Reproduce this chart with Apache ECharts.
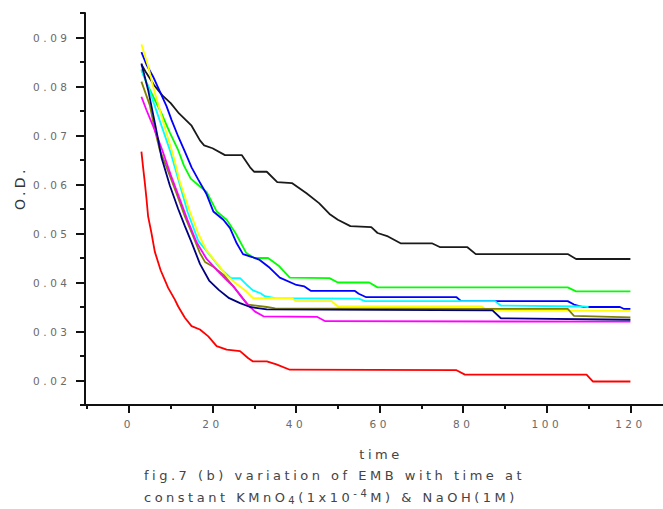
<!DOCTYPE html>
<html><head><meta charset="utf-8">
<script src="https://cdn.jsdelivr.net/npm/echarts@6.0.0/dist/echarts.min.js"></script>
<style>
html,body{margin:0;padding:0;background:#fff;}
#main{width:663px;height:509px;}
#main text{letter-spacing:3.5px;}
</style></head><body><div id="main"></div>
<script>
// ---- tick labels ----
const xTicks = [0, 20, 40, 60, 80, 100, 120];
const xMinor = [-10, 10, 30, 50, 70, 90, 110];
const yTicks = [0.02, 0.03, 0.04, 0.05, 0.06, 0.07, 0.08, 0.09];
const yMinor = [0.015, 0.025, 0.035, 0.045, 0.055, 0.065, 0.075, 0.085, 0.095];

// ---- series values: [time, O.D.] ----
const blackOD = [[3,0.0845],[4,0.083],[5,0.0817],[6,0.0803],[8,0.0782],[10,0.0766],[12,0.0745],[15,0.072],[17,0.069],[18,0.068],[20,0.0674],[23,0.066],[27,0.066],[29,0.0635],[30,0.0626],[33,0.0626],[35.5,0.0605],[39,0.0603],[42.5,0.0582],[45.5,0.0562],[48,0.054],[50,0.0528],[53,0.0515],[58,0.0513],[59.5,0.0501],[62,0.0494],[65,0.048],[72.5,0.048],[74.5,0.0472],[81,0.0472],[83,0.0458],[105,0.0458],[107,0.0448],[120,0.0448]];
const greenOD = [[3,0.0835],[4.2,0.0808],[5.8,0.078],[7.8,0.0745],[9.8,0.0706],[11.8,0.067],[13.2,0.0638],[14.8,0.0612],[17,0.0596],[18.6,0.0585],[21,0.0545],[23.4,0.0528],[25.5,0.0501],[28.1,0.046],[30,0.045],[33.3,0.045],[36,0.0433],[38.5,0.041],[48,0.0409],[50,0.04],[57.5,0.04],[59.5,0.039],[105,0.039],[107,0.0382],[120,0.0382]];
const blueOD = [[3,0.087],[4.2,0.0845],[5.8,0.082],[7.4,0.079],[9,0.076],[10.2,0.0732],[11.8,0.0698],[13.4,0.0667],[15,0.0635],[16.6,0.061],[18.6,0.058],[20.2,0.0545],[22.6,0.0528],[24.2,0.0511],[25.8,0.048],[27.3,0.0458],[29.5,0.0452],[31.3,0.0446],[33.7,0.043],[36.1,0.041],[40.1,0.0395],[42,0.0392],[43.5,0.0383],[54,0.0383],[55,0.0377],[56.8,0.037],[78.4,0.037],[79.5,0.0362],[105,0.0362],[106.5,0.0355],[108.7,0.035],[117.5,0.035],[118.5,0.0346],[120,0.0346]];
const cyanOD = [[3,0.0833],[4.6,0.08],[6,0.0765],[8,0.0715],[10,0.0665],[12,0.0605],[14,0.0545],[16.6,0.0485],[19,0.046],[21.8,0.043],[24.4,0.0409],[26.6,0.0409],[28.1,0.0396],[29.7,0.0384],[31.5,0.0378],[32.5,0.0372],[35,0.0368],[55,0.0367],[56.5,0.0362],[87.6,0.0362],[89,0.0353],[108.7,0.0351],[110,0.035]];
const yellowOD = [[3,0.0886],[4.6,0.0842],[5.8,0.08],[7.4,0.0752],[9,0.0705],[10.6,0.066],[12.2,0.0605],[14.6,0.0545],[16.6,0.05],[18.6,0.0465],[21,0.044],[23.4,0.0414],[25.8,0.0397],[28.1,0.0382],[29.7,0.0368],[39,0.0368],[40,0.0362],[48.5,0.0362],[50,0.0351],[84.4,0.0351],[85.6,0.0344],[120,0.0342]];
const oliveOD = [[3,0.081],[5,0.0762],[6.2,0.0712],[7.4,0.067],[9,0.0636],[11.4,0.0582],[13.4,0.0535],[15.4,0.0494],[17,0.046],[18.2,0.0442],[20.2,0.0432],[22.6,0.0416],[25,0.0392],[27.3,0.0367],[28.5,0.0355],[33,0.035],[35,0.0347],[105,0.0346],[106.5,0.0332],[120,0.0329]];
const navyOD = [[3,0.0847],[3.8,0.082],[4.6,0.0793],[5.4,0.076],[6.2,0.0726],[7,0.0692],[7.8,0.0655],[9.8,0.0598],[11.8,0.055],[13.4,0.0515],[15,0.0482],[17,0.0438],[19.2,0.0404],[21.5,0.0385],[24,0.0368],[26.6,0.0358],[29,0.035],[33,0.0345],[87,0.0343],[89,0.0327],[120,0.0324]];
const magentaOD = [[3,0.0779],[4.2,0.0752],[6,0.0715],[8,0.067],[10,0.062],[12.2,0.057],[14,0.0528],[16.2,0.0482],[18.6,0.0448],[21,0.0426],[23.4,0.0405],[25,0.0392],[28.1,0.0358],[30.1,0.0341],[32.2,0.0331],[45,0.033],[47,0.0321],[120,0.032]];
const redOD = [[3,0.0667],[3.4,0.0635],[3.8,0.0605],[4.2,0.0572],[4.6,0.0535],[5.4,0.0501],[6.2,0.0463],[7.6,0.0425],[9.4,0.0389],[11,0.0365],[11.8,0.0351],[13.4,0.0328],[15,0.0311],[17,0.0304],[19,0.029],[21,0.027],[23.4,0.0263],[26.6,0.026],[28.5,0.0246],[29.7,0.0239],[33,0.0239],[35.3,0.0233],[38.5,0.0222],[78.4,0.0221],[80.4,0.0212],[109.5,0.0212],[111,0.0198],[120,0.0198]];

const seriesList = [
  {name:'black', data: blackOD, color:'#1a1a1a'},
  {name:'green', data: greenOD, color:'#00ff00'},
  {name:'blue', data: blueOD, color:'#0000ff'},
  {name:'cyan', data: cyanOD, color:'#00ffff'},
  {name:'yellow', data: yellowOD, color:'#ffff00'},
  {name:'olive', data: oliveOD, color:'#808000'},
  {name:'magenta', data: magentaOD, color:'#ff00ff'},
  {name:'navy', data: navyOD, color:'#000080'},
  {name:'red', data: redOD, color:'#ff0000'}
];

const LS = 3.5;
const mctx = document.createElement('canvas').getContext('2d');
if (echarts.setPlatformAPI) {
  echarts.setPlatformAPI({
    measureText: function (text, font) {
      mctx.font = font || '12px sans-serif';
      const m = mctx.measureText(text);
      return { width: m.width + LS * String(text).length };
    }
  });
}

const X_MIN = -10.5, X_MAX = 127.8, Y_MIN = 0.015, Y_MAX = 0.095;
const labelFont = { fontFamily: 'DejaVu Sans', fontSize: 10.5, color: '#6a6a6a' };
const axisLine = { show: true, onZero: false, lineStyle: { color: '#111', width: 2 } };
const hiddenLine = { show: false, onZero: false };

const chart = echarts.init(document.getElementById('main'), null, { renderer: 'svg' });
chart.setOption({
  animation: false,
  backgroundColor: '#fff',
  grid: { left: 85, right: 0, top: 13, bottom: 104 },
  xAxis: [
    { type: 'value', min: X_MIN, max: X_MAX, position: 'bottom',
      axisLine: axisLine,
      axisTick: { show: true, inside: false, length: 8, customValues: xTicks, lineStyle: { color: '#111', width: 2 } },
      axisLabel: Object.assign({ customValues: xTicks, margin: 12, formatter: v => String(Math.round(v)) }, labelFont),
      splitLine: { show: false } },
    { type: 'value', min: X_MIN, max: X_MAX, position: 'bottom',
      axisLine: hiddenLine,
      axisTick: { show: true, inside: false, length: 4, customValues: xMinor, lineStyle: { color: '#111', width: 2 } },
      axisLabel: { show: false }, splitLine: { show: false } }
  ],
  yAxis: [
    { type: 'value', min: Y_MIN, max: Y_MAX, position: 'left',
      axisLine: axisLine,
      axisTick: { show: true, inside: false, length: 9, customValues: yTicks, lineStyle: { color: '#111', width: 2 } },
      axisLabel: Object.assign({ customValues: yTicks, margin: 14.5, formatter: v => v.toFixed(2) }, labelFont),
      splitLine: { show: false } },
    { type: 'value', min: Y_MIN, max: Y_MAX, position: 'left',
      axisLine: hiddenLine,
      axisTick: { show: true, inside: false, length: 5, customValues: yMinor, lineStyle: { color: '#111', width: 2 } },
      axisLabel: { show: false }, splitLine: { show: false } }
  ],
  series: seriesList.map(s => ({
    name: s.name, type: 'line', data: s.data, xAxisIndex: 0, yAxisIndex: 0,
    showSymbol: false, symbol: 'none', smooth: false, silent: true,
    lineStyle: { color: s.color, width: 1.8 }, itemStyle: { color: s.color }
  })),
  graphic: [
    { type: 'text', x: 20, y: 188, rotation: Math.PI / 2,
      style: { text: 'O.D.', font: '14px "DejaVu Sans"', fill: '#333', align: 'center', verticalAlign: 'middle' } },
    { type: 'text', x: 381, y: 454,
      style: { text: 'time', font: '13px "DejaVu Sans"', fill: '#444', align: 'center', verticalAlign: 'middle' } },
    { type: 'text', x: 144, y: 475,
      style: { text: 'fig.7 (b) variation of EMB with time at', font: '13px "DejaVu Sans"', fill: '#444', align: 'left', verticalAlign: 'middle' } },
    { type: 'text', x: 144, y: 497,
      style: { text: 'constant KMnO{sub|4}(1x10{sup|-4}M) & NaOH(1M)', font: '13px "DejaVu Sans"', fill: '#444', align: 'left', verticalAlign: 'middle', lineHeight: 20,
        rich: {
          sub: { fontSize: 10, fontFamily: 'DejaVu Sans', fill: '#444', verticalAlign: 'bottom', lineHeight: 20 },
          sup: { fontSize: 10, fontFamily: 'DejaVu Sans', fill: '#444', verticalAlign: 'top', lineHeight: 20 }
        } } }
  ]
});
</script></body></html>
